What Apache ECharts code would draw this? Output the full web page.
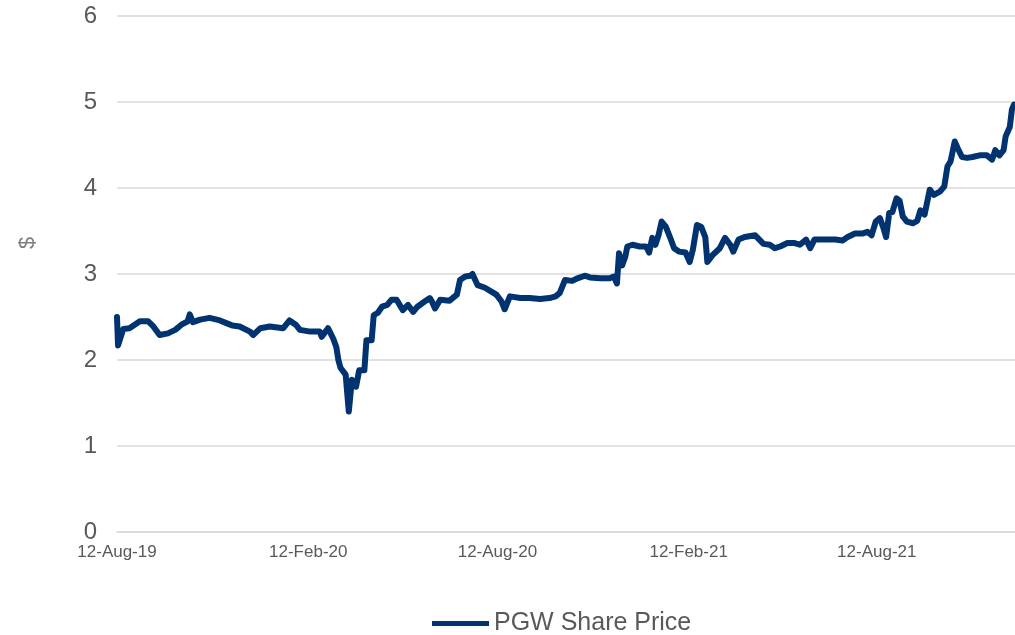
<!DOCTYPE html>
<html>
<head>
<meta charset="utf-8">
<title>PGW Share Price</title>
<script src="https://cdn.jsdelivr.net/npm/echarts@6/dist/echarts.min.js"></script>
<style>
  html, body { margin: 0; padding: 0; background: #fff; }
  #chart { width: 1015px; height: 635px; }
</style>
</head>
<body>
<div id="chart"></div>
<script>
// daily close (date, $)
var dates = [
  "2019-08-12","2019-08-13","2019-08-18","2019-08-24","2019-08-29","2019-09-03","2019-09-11","2019-09-16","2019-09-22","2019-09-30",
  "2019-10-07","2019-10-13","2019-10-19","2019-10-21","2019-10-24","2019-10-31","2019-11-09","2019-11-19","2019-11-27","2019-12-01",
  "2019-12-08","2019-12-18","2019-12-21","2019-12-28","2020-01-06","2020-01-19","2020-01-25","2020-01-31","2020-02-04","2020-02-14",
  "2020-02-23","2020-02-25","2020-03-02","2020-03-07","2020-03-10","2020-03-12","2020-03-14","2020-03-19","2020-03-22","2020-03-25",
  "2020-03-29","2020-04-01","2020-04-06","2020-04-08","2020-04-13","2020-04-15","2020-04-19","2020-04-23","2020-04-28","2020-05-02",
  "2020-05-07","2020-05-13","2020-05-18","2020-05-23","2020-05-27","2020-06-03","2020-06-08","2020-06-10","2020-06-13","2020-06-18",
  "2020-06-27","2020-07-04","2020-07-07","2020-07-12","2020-07-17","2020-07-19","2020-07-24","2020-07-31","2020-08-07","2020-08-11",
  "2020-08-16","2020-08-19","2020-08-24","2020-09-03","2020-09-12","2020-09-22","2020-10-01","2020-10-07","2020-10-11","2020-10-16",
  "2020-10-23","2020-10-28","2020-11-04","2020-11-09","2020-11-19","2020-11-28","2020-12-02","2020-12-05","2020-12-07","2020-12-10",
  "2020-12-13","2020-12-15","2020-12-20","2020-12-27","2021-01-02","2021-01-05","2021-01-08","2021-01-11","2021-01-14","2021-01-17",
  "2021-01-21","2021-01-25","2021-01-29","2021-02-03","2021-02-09","2021-02-13","2021-02-16","2021-02-20","2021-02-24","2021-02-28",
  "2021-03-02","2021-03-07","2021-03-14","2021-03-19","2021-03-24","2021-03-27","2021-04-01","2021-04-07","2021-04-17","2021-04-21",
  "2021-04-25","2021-05-01","2021-05-06","2021-05-11","2021-05-18","2021-05-25","2021-05-30","2021-06-05","2021-06-09","2021-06-13",
  "2021-06-23","2021-07-03","2021-07-10","2021-07-15","2021-07-22","2021-07-29","2021-08-03","2021-08-07","2021-08-11","2021-08-15",
  "2021-08-18","2021-08-21","2021-08-24","2021-08-27","2021-08-31","2021-09-03","2021-09-06","2021-09-10","2021-09-16","2021-09-20",
  "2021-09-23","2021-09-27","2021-10-02","2021-10-06","2021-10-12","2021-10-16","2021-10-19","2021-10-22","2021-10-26","2021-10-29",
  "2021-11-02","2021-11-07","2021-11-12","2021-11-19","2021-11-26","2021-12-01","2021-12-04","2021-12-08","2021-12-12","2021-12-14",
  "2021-12-18","2021-12-20","2021-12-22"
];
var prices = [
  2.50,2.17,2.36,2.37,2.41,2.45,2.45,2.39,2.29,2.31,
  2.35,2.41,2.45,2.53,2.44,2.47,2.49,2.46,2.42,2.40,
  2.39,2.33,2.29,2.37,2.39,2.37,2.46,2.41,2.35,2.33,
  2.33,2.27,2.37,2.25,2.15,2.00,1.91,1.83,1.40,1.77,
  1.69,1.88,1.88,2.23,2.23,2.52,2.55,2.62,2.64,2.70,
  2.70,2.58,2.64,2.56,2.62,2.68,2.72,2.68,2.60,2.70,
  2.69,2.76,2.93,2.97,2.98,3.00,2.87,2.84,2.79,2.76,
  2.68,2.59,2.74,2.72,2.72,2.71,2.72,2.74,2.78,2.93,
  2.92,2.95,2.98,2.96,2.95,2.95,2.97,2.89,3.24,3.10,
  3.20,3.32,3.34,3.32,3.32,3.25,3.42,3.34,3.45,3.61,
  3.55,3.43,3.30,3.26,3.25,3.14,3.28,3.57,3.55,3.43,
  3.14,3.22,3.30,3.42,3.34,3.26,3.40,3.43,3.45,3.40,
  3.35,3.34,3.30,3.32,3.36,3.36,3.34,3.40,3.30,3.40,
  3.40,3.40,3.39,3.43,3.47,3.47,3.49,3.45,3.61,3.65,
  3.55,3.43,3.71,3.72,3.88,3.85,3.67,3.61,3.59,3.62,
  3.74,3.69,3.98,3.92,3.96,4.02,4.25,4.31,4.54,4.46,
  4.36,4.35,4.36,4.38,4.38,4.33,4.44,4.38,4.44,4.60,
  4.71,4.91,4.97
];
var tickDates = ["2019-08-12", "2020-02-12", "2020-08-12", "2021-02-12", "2021-08-12"];
var axisStart = "2019-08-12";
var axisEnd = "2021-12-23";
var seriesName = "PGW Share Price";

var monthNames = ["Jan","Feb","Mar","Apr","May","Jun","Jul","Aug","Sep","Oct","Nov","Dec"];

// local-time timestamp from yyyy-mm-dd
function toTime(s) {
  var p = s.split("-");
  return new Date(+p[0], +p[1] - 1, +p[2]).getTime();
}
function fmtDate(v) {
  var d = new Date(v);
  return d.getDate() + "-" + monthNames[d.getMonth()] + "-" + String(d.getFullYear()).slice(2);
}

var lineData = dates.map(function (d, i) { return [toTime(d), prices[i]]; });

var myChart = echarts.init(document.getElementById("chart"));
var font = "'Liberation Sans', Arial, sans-serif";

var option = {
  animation: false,
  backgroundColor: "#ffffff",
  textStyle: { fontFamily: font },
  grid: {
    left: 117,
    right: 0,
    top: 16,
    bottom: 103,
    containLabel: false,
    outerBoundsMode: "none"
  },
  legend: {
    data: [seriesName],
    left: 427,
    top: 606,
    icon: "rect",
    itemWidth: 57,
    itemHeight: 5,
    textStyle: { color: "#595959", fontSize: 25, fontFamily: font }
  },
  graphic: [
    {
      type: "text",
      x: 28,
      y: 243,
      rotation: Math.PI / 2,
      style: {
        text: "$",
        fontSize: 22,
        fontFamily: font,
        fill: "#7f7f7f",
        align: "center",
        verticalAlign: "middle"
      }
    }
  ],
  // timestamps on a plain value axis so the five date labels can sit on the 12th
  xAxis: {
    type: "value",
    min: toTime(axisStart),
    max: toTime(axisEnd),
    axisLine: { show: true, lineStyle: { color: "#d9d9d9", width: 1.5 } },
    axisTick: { show: false },
    splitLine: { show: false },
    axisLabel: {
      customValues: tickDates.map(toTime),
      formatter: fmtDate,
      color: "#595959",
      fontSize: 17,
      fontFamily: font,
      margin: 12,
      hideOverlap: false
    }
  },
  yAxis: {
    type: "value",
    min: 0,
    max: 6,
    interval: 1,
    axisLine: { show: false },
    axisTick: { show: false },
    splitLine: { lineStyle: { color: "#d9d9d9", width: 1.5 } },
    axisLabel: {
      color: "#595959",
      fontSize: 24,
      fontFamily: font,
      margin: 20
    }
  },
  series: [
    {
      name: seriesName,
      type: "line",
      data: lineData,
      showSymbol: false,
      symbol: "none",
      lineStyle: { color: "#003370", width: 6, join: "round", cap: "round" },
      itemStyle: { color: "#003370" }
    }
  ]
};
myChart.setOption(option);
</script>
</body>
</html>
